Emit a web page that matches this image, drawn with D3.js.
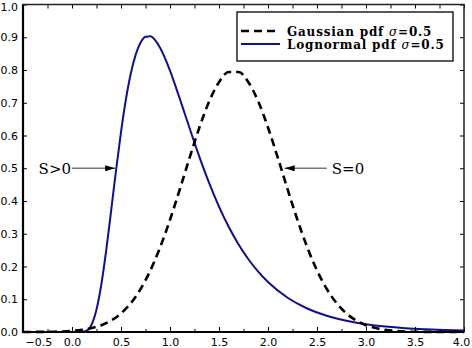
<!DOCTYPE html>
<html>
<head>
<meta charset="utf-8">
<script src="https://cdn.jsdelivr.net/npm/d3@7"></script>
<style>
  body { margin: 0; background: #fff; }
  svg { display: block; }
  .tick text { font-family: "DejaVu Sans", sans-serif; font-size: 11px; fill: #000; }
</style>
</head>
<body>
<div id="chart"></div>
<script>
const width = 472;
const height = 348;

// Gaussian pdf, sigma = 0.5
var gaussX = [-0.5, -0.4, -0.3, -0.2, -0.1, 0.0, 0.1, 0.2, 0.3, 0.4, 0.5, 0.6, 0.7, 0.8, 0.9,
  1.0, 1.1, 1.2, 1.3, 1.4, 1.5, 1.6, 1.7, 1.8, 1.9, 2.0, 2.1, 2.2, 2.3, 2.4, 2.5, 2.6, 2.7,
  2.8, 2.9, 3.0, 3.1, 3.2, 3.3, 3.4, 3.5, 3.6, 3.7, 3.8, 3.9, 4.0];
var gaussY = [0.0001, 0.0002, 0.0004, 0.0008, 0.0017, 0.0034, 0.0065, 0.0119, 0.0208, 0.0351,
  0.0567, 0.0880, 0.1313, 0.1881, 0.2591, 0.3428, 0.4357, 0.5322, 0.6245, 0.7042, 0.7628,
  0.7939, 0.7939, 0.7628, 0.7042, 0.6245, 0.5322, 0.4357, 0.3428, 0.2591, 0.1881, 0.1313,
  0.0880, 0.0567, 0.0351, 0.0208, 0.0119, 0.0065, 0.0034, 0.0017, 0.0008, 0.0004, 0.0002,
  0.0001, 0.0000, 0.0000];

// Lognormal pdf, sigma = 0.5
var logX = [0.0, 0.05, 0.1, 0.15, 0.2, 0.25, 0.3, 0.35, 0.4, 0.45, 0.5, 0.55, 0.6, 0.65, 0.7,
  0.75, 0.8, 0.85, 0.9, 0.95, 1.0, 1.05, 1.1, 1.15, 1.2, 1.25, 1.3, 1.4, 1.5, 1.6, 1.7, 1.8,
  1.9, 2.0, 2.2, 2.4, 2.6, 2.8, 3.0, 3.2, 3.4, 3.6, 3.8, 4.0];
var logY = [0.0, 0.0, 0.0002, 0.0040, 0.0225, 0.0684, 0.1465, 0.2516, 0.3721, 0.4954, 0.6105,
  0.7099, 0.7891, 0.8469, 0.8837, 0.9016, 0.9029, 0.8904, 0.8671, 0.8355, 0.7979, 0.7563,
  0.7123, 0.6673, 0.6222, 0.5778, 0.5348, 0.4544, 0.3829, 0.3206, 0.2673, 0.2221, 0.1842,
  0.1526, 0.1046, 0.0718, 0.0494, 0.0342, 0.0238, 0.0167, 0.0117, 0.0083, 0.0059, 0.0043];

// tick labels
var xTicks = [-0.5, 0.0, 0.5, 1.0, 1.5, 2.0, 2.5, 3.0, 3.5, 4.0];
var xMinor = [-0.25, 0.25, 0.75, 1.25, 1.75, 2.25, 2.75, 3.25, 3.75];
var yTicks = [0.0, 0.1, 0.2, 0.3, 0.4, 0.5, 0.6, 0.7, 0.8, 0.9, 1.0];

var legendLabels = ["Gaussian pdf ", "Lognormal pdf "];
var annotations = [{text: "S>0", y: 0.5, from: 0.0, to: 0.44}, {text: "S=0", y: 0.5, from: 2.60, to: 2.17}];

var mLeft = 23, mRight = 464, mTop = 4.5, mBottom = 332;

var xScale = d3.scaleLinear().domain([-0.5, 4.0]).range([mLeft, mRight]);
var yScale = d3.scaleLinear().domain([0, 1.0]).range([mBottom, mTop]);

var svg = d3.select("#chart").append("svg")
  .attr("width", width)
  .attr("height", height);

svg.append("defs").append("marker")
  .attr("id", "head")
  .attr("viewBox", "0 0 10 6")
  .attr("refX", 10).attr("refY", 3)
  .attr("markerWidth", 11).attr("markerHeight", 6)
  .attr("markerUnits", "userSpaceOnUse")
  .attr("orient", "auto")
  .append("path").attr("d", "M0,0 L10,3 L0,6 Z").attr("fill", "#000");

// curves
var line = d3.line()
  .x(d => xScale(d[0]))
  .y(d => yScale(d[1]))
  .curve(d3.curveMonotoneX);

svg.append("path")
  .datum(d3.zip(logX, logY))
  .attr("d", line)
  .attr("fill", "none")
  .attr("stroke", "#10108a")
  .attr("stroke-width", 2);

svg.append("path")
  .datum(d3.zip(gaussX, gaussY))
  .attr("d", line)
  .attr("fill", "none")
  .attr("stroke", "#000")
  .attr("stroke-width", 2.6)
  .attr("stroke-dasharray", "8,5");

// axes: ticks point inward
var xAxis = d3.axisBottom(xScale).tickValues(xTicks).tickSize(-5).tickPadding(6.5)
  .tickFormat(d => d < 0 ? "\u2212" + d3.format(".1f")(-d) : d3.format(".1f")(d));
var gx = svg.append("g").attr("transform", "translate(0," + mBottom + ")").call(xAxis);
gx.select(".domain").remove();
gx.selectAll(".tick line").attr("stroke", "#000");
gx.selectAll(".tick text").filter(d => d < 0).attr("text-anchor", "start").attr("dx", 2);
gx.selectAll(".tick text").filter(d => d === 4.0).attr("dx", -3);

svg.append("g").attr("transform", "translate(0," + mBottom + ")")
  .call(d3.axisBottom(xScale).tickValues(xMinor).tickSize(-3).tickFormat(""))
  .select(".domain").remove();

var gTop = svg.append("g").attr("transform", "translate(0," + mTop + ")")
  .call(d3.axisTop(xScale).tickValues(xTicks.concat(xMinor)).tickSize(-4).tickFormat(""));
gTop.select(".domain").remove();

var yAxis = d3.axisLeft(yScale).tickValues(yTicks).tickSize(-4).tickPadding(5)
  .tickFormat(d3.format(".1f"));
var gy = svg.append("g").attr("transform", "translate(" + mLeft + ",0)").call(yAxis);
gy.select(".domain").remove();
gy.selectAll(".tick text").filter(d => d === 1.0).attr("dy", "0.55em");

var gRight = svg.append("g").attr("transform", "translate(" + mRight + ",0)")
  .call(d3.axisRight(yScale).tickValues(yTicks).tickSize(-4).tickFormat(""));
gRight.select(".domain").remove();

// frame
svg.append("rect")
  .attr("x", mLeft).attr("y", mTop)
  .attr("width", mRight - mLeft).attr("height", mBottom - mTop)
  .attr("fill", "none").attr("stroke", "#222").attr("stroke-width", 1.5);
svg.append("path")
  .attr("d", "M" + mLeft + "," + mTop + "V" + mBottom + "H" + mRight)
  .attr("fill", "none").attr("stroke", "#000").attr("stroke-width", 2.2);

// annotations
annotations.forEach(a => {
  svg.append("line")
    .attr("x1", xScale(a.from)).attr("y1", yScale(a.y))
    .attr("x2", xScale(a.to)).attr("y2", yScale(a.y))
    .attr("stroke", "#777").attr("stroke-width", 1.5)
    .attr("marker-end", "url(#head)");
});
svg.append("text")
  .attr("x", xScale(0.0) - 1).attr("y", yScale(0.5) + 5.5)
  .attr("text-anchor", "end")
  .style("font-family", "'DejaVu Serif', serif").style("font-size", "15px")
  .text(annotations[0].text);
svg.append("text")
  .attr("x", xScale(2.6) + 5).attr("y", yScale(0.5) + 5.5)
  .style("font-family", "'DejaVu Serif', serif").style("font-size", "15px")
  .text(annotations[1].text);

// legend
var legend = svg.append("g");
legend.append("rect")
  .attr("x", 237).attr("y", 12).attr("width", 216).attr("height", 49)
  .attr("fill", "#fff").attr("stroke", "#000").attr("stroke-width", 1.3);

legendLabels.forEach((lab, i) => {
  var ly = 31 + i * 13;
  legend.append("line")
    .attr("x1", 241).attr("x2", 280).attr("y1", ly).attr("y2", ly)
    .attr("stroke", i === 0 ? "#000" : "#10108a")
    .attr("stroke-width", i === 0 ? 2.6 : 2)
    .attr("stroke-dasharray", i === 0 ? "8,5" : null);
  var t = legend.append("text")
    .attr("x", 287).attr("y", ly + 4.5)
    .style("font-family", "'DejaVu Serif', serif").style("font-size", "12px")
    .style("font-weight", "bold").style("letter-spacing", "0.8px");
  t.append("tspan").text(lab);
  t.append("tspan").style("font-style", "italic").style("font-weight", "normal").text("\u03c3");
  t.append("tspan").text("=0.5");
});
</script>
</body>
</html>
